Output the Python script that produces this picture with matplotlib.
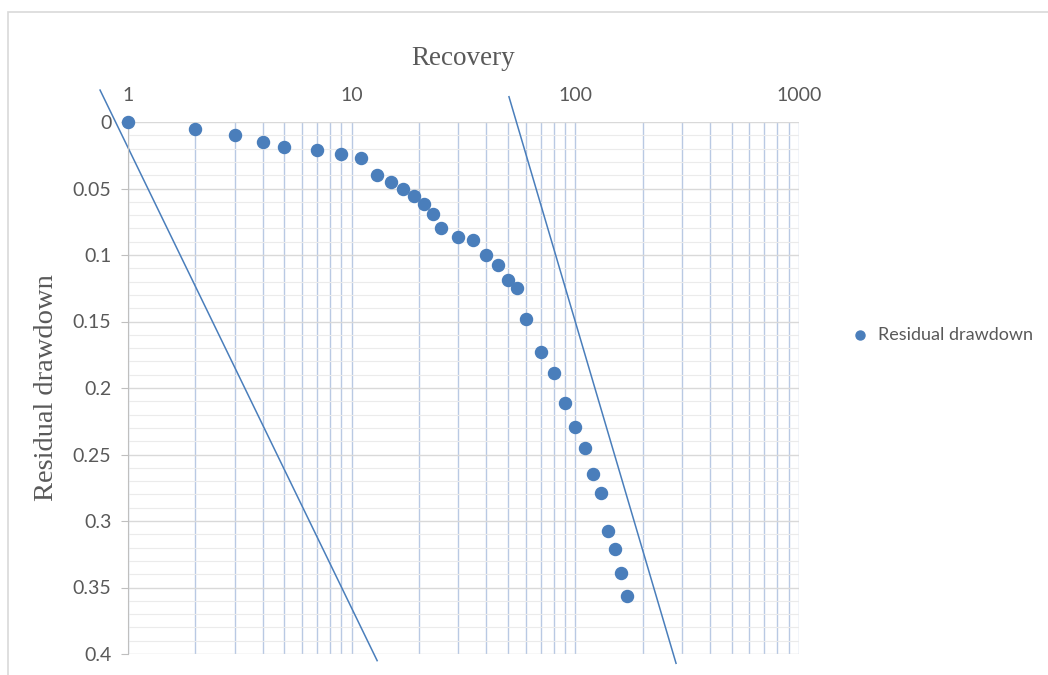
import matplotlib
matplotlib.use("Agg")
import matplotlib.pyplot as plt
from matplotlib.patches import Rectangle
from matplotlib.ticker import LogLocator, FixedLocator, NullFormatter

# recovery time and residual drawdown
recovery = [1, 2, 3, 4, 5, 7, 9, 11, 13, 15, 17, 19, 21, 23, 25, 30, 35, 40, 45,
            50, 55, 60, 70, 80, 90, 100, 110, 120, 130, 140, 150, 160, 170]
drawdown = [0.0, 0.005, 0.010, 0.015, 0.019, 0.021, 0.024, 0.027, 0.040, 0.045,
            0.050, 0.056, 0.062, 0.069, 0.080, 0.0865, 0.089, 0.100, 0.1075,
            0.119, 0.125, 0.148, 0.173, 0.189, 0.211, 0.229, 0.245, 0.265,
            0.279, 0.3075, 0.321, 0.339, 0.3565]

# two hand drawn straight lines (start / end in data coords)
line1_x = [0.75, 13.0]
line1_y = [-0.024, 0.405]
line2_x = [50.5, 282.0]
line2_y = [-0.019, 0.407]

yticks = [0, 0.05, 0.1, 0.15, 0.2, 0.25, 0.3, 0.35, 0.4]
ytick_labels = ["0", "0.05", "0.1", "0.15", "0.2", "0.25", "0.3", "0.35", "0.4"]

blue = "#4a7ebb"
txt = "#595959"
sans = ["Lato", "DejaVu Sans"]
serif = ["Liberation Serif", "DejaVu Serif"]

W, H = 1048, 675
fig = plt.figure(figsize=(W / 100, H / 100), dpi=100)
fig.patches.append(Rectangle((8 / W, -0.1), 1.2, 1 - 12 / H + 0.1, transform=fig.transFigure,
                             fill=False, edgecolor="#d9d9d9", linewidth=1.2))

ax = fig.add_axes([128 / W, 1 - 654 / H, 671 / W, 532 / H])
ax.set_xscale("log")
ax.set_xlim(1, 1000)
ax.set_ylim(0.4, 0)

ax.xaxis.set_ticks_position("top")
ax.xaxis.set_label_position("top")
ax.xaxis.set_major_locator(FixedLocator([1, 10, 100, 1000]))
ax.xaxis.set_major_formatter(plt.FuncFormatter(lambda v, p: f"{int(v)}"))
ax.xaxis.set_minor_locator(LogLocator(base=10, subs=range(2, 10)))
ax.xaxis.set_minor_formatter(NullFormatter())
ax.set_yticks(yticks)
ax.set_yticklabels(ytick_labels)
ax.yaxis.set_minor_locator(FixedLocator([i / 100 for i in range(41) if i % 5]))

ax.tick_params(axis="x", which="both", length=0, pad=13, labelsize=14, labelcolor=txt)
ax.tick_params(axis="y", which="major", length=5, color="#bfbfbf", pad=7, labelsize=14, labelcolor=txt)
ax.tick_params(axis="y", which="minor", length=0)
for lab in ax.get_xticklabels() + ax.get_yticklabels():
    lab.set_family(sans)

ax.grid(True, axis="x", which="both", color="#b9c9e3", linewidth=1)
ax.grid(True, axis="y", which="major", color="#d9d9d9", linewidth=1)
ax.grid(True, axis="y", which="minor", color="#ebebeb", linewidth=0.8)
ax.set_axisbelow(True)
for side in ["top", "bottom", "right"]:
    ax.spines[side].set_visible(False)
ax.spines["left"].set_color("#bfbfbf")

ax.scatter(recovery, drawdown, s=75, color=blue, zorder=3, clip_on=False, label="Residual drawdown")
ax.plot(line1_x, line1_y, color=blue, linewidth=1.1, clip_on=False)
ax.plot(line2_x, line2_y, color=blue, linewidth=1.1, clip_on=False)

ax.set_xlabel("Recovery", family=serif, fontsize=19.5, color=txt, labelpad=16)
ax.set_ylabel("Residual drawdown", family=serif, fontsize=20.5, color=txt, labelpad=10)

leg = ax.legend(loc="center left", bbox_to_anchor=(1.04, 0.6), frameon=False,
                handletextpad=0.0, markerscale=0.75, prop={"family": sans, "size": 13})
for t in leg.get_texts():
    t.set_color(txt)

fig.savefig("out.png", dpi=100)
